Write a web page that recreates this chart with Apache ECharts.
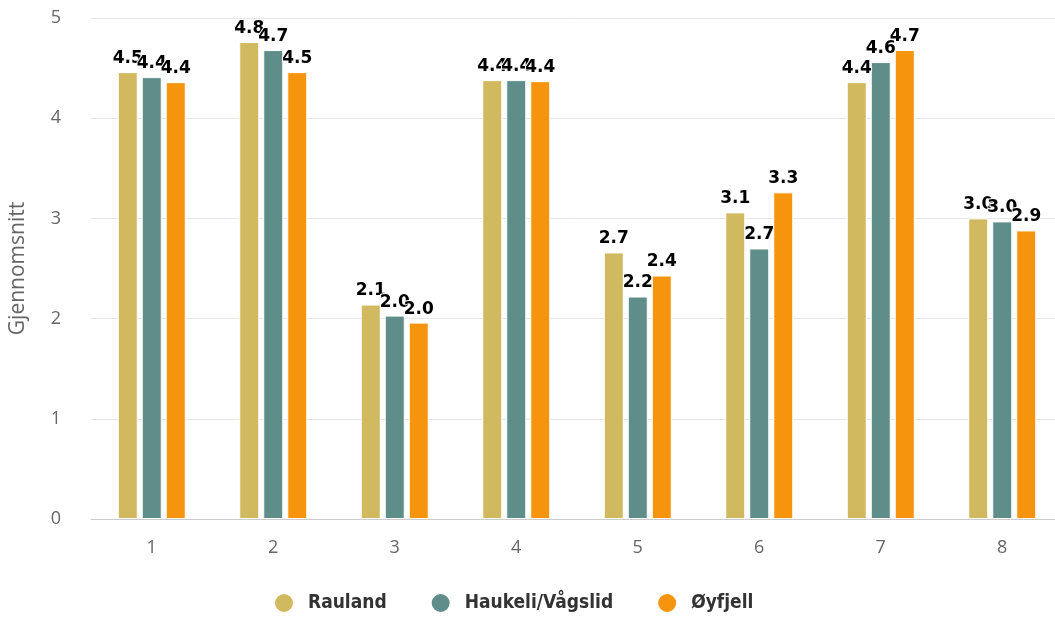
<!DOCTYPE html>
<html>
<head>
<meta charset="utf-8">
<script src="https://cdn.jsdelivr.net/npm/echarts@6/dist/echarts.min.js"></script>
<style>
html, body { margin: 0; padding: 0; background: #fff; }
#main { width: 1055px; height: 617px; }
</style>
</head>
<body>
<div id="main"></div>
<script>
var categories = ['1', '2', '3', '4', '5', '6', '7', '8'];
var rauland = [4.46, 4.76, 2.14, 4.38, 2.66, 3.06, 4.36, 3.00];
var haukeli = [4.41, 4.68, 2.03, 4.38, 2.22, 2.70, 4.56, 2.97];
var oyfjell = [4.36, 4.46, 1.96, 4.37, 2.43, 3.26, 4.68, 2.88];
var yTicks = [0, 1, 2, 3, 4, 5];

// etikett over hver søyle
function barLabel() {
	return {
		show: true,
		position: 'top',
		distance: 5,
		color: '#000',
		fontFamily: 'DejaVu Sans',
		fontSize: 17,
		fontWeight: 'bold',
		textBorderColor: '#fff',
		textBorderWidth: 2,
		formatter: function(p) { return p.value.toFixed(1); }
	};
}

function makeSeries(name, data, color) {
	return {
		name: name,
		type: 'bar',
		data: data,
		barWidth: 20,
		barGap: '20%',
		itemStyle: { color: color, borderColor: '#fff', borderWidth: 1 },
		label: barLabel()
	};
}

var myChart = echarts.init(document.getElementById('main'));
var option = {
	animation: false,
	grid: { left: 91, right: -8, top: 18, bottom: 98, outerBoundsMode: 'none' },
	legend: {
		bottom: 3,
		left: 273,
		padding: 0,
		itemGap: 43,
		icon: 'circle',
		itemWidth: 20,
		itemHeight: 20,
		textStyle: {
			fontFamily: 'DejaVu Sans Condensed',
			fontSize: 19,
			fontWeight: 'bold',
			color: '#333',
			padding: [0, 0, 0, 9]
		},
		data: ['Rauland', 'Haukeli/Vågslid', 'Øyfjell']
	},
	xAxis: {
		type: 'category',
		data: categories,
		axisLine: { lineStyle: { color: '#ccc', width: 1 } },
		axisTick: { show: false },
		axisLabel: { color: '#666', fontSize: 18, fontFamily: 'Open Sans', margin: 20 }
	},
	yAxis: {
		type: 'value',
		min: yTicks[0],
		max: yTicks[yTicks.length - 1],
		interval: 1,
		name: 'Gjennomsnitt',
		nameLocation: 'middle',
		nameGap: 62,
		nameTextStyle: { color: '#666', fontSize: 21, fontFamily: 'Open Sans' },
		axisLabel: { color: '#666', fontSize: 18, fontFamily: 'Open Sans', margin: 30 },
		splitLine: { lineStyle: { color: '#e6e6e6', width: 1 } }
	},
	series: [
		makeSeries('Rauland', rauland, '#d0b95f'),
		makeSeries('Haukeli/Vågslid', haukeli, '#5f8d89'),
		makeSeries('Øyfjell', oyfjell, '#f7940d')
	]
};
myChart.setOption(option);
</script>
</body>
</html>
